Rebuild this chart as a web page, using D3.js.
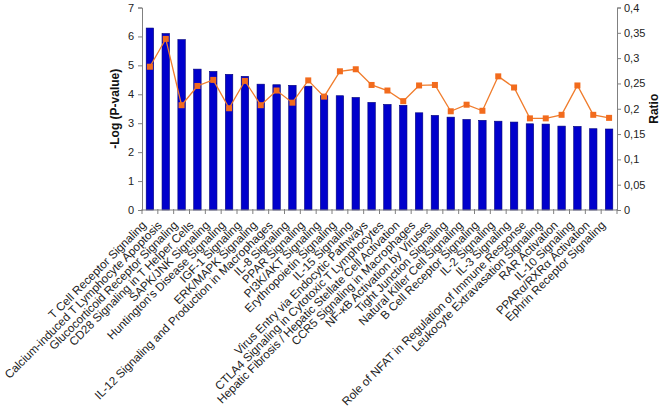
<!DOCTYPE html>
<html><head><meta charset="utf-8">
<script src="https://cdn.jsdelivr.net/npm/d3@7"></script>
<style>
html,body{margin:0;padding:0;background:#fff;}
svg{display:block;font-family:"Liberation Sans",Arial,sans-serif;}
</style></head>
<body><svg id="c" width="661" height="415"></svg>
<script>
const categories = [
  "T Cell Receptor Signaling",
  "Calcium-induced T Lymphocyte Apoptosis",
  "Glucocorticoid Receptor Signaling",
  "CD28 Signaling in T Helper Cells",
  "SAPK/JNK Signaling",
  "Huntington's Disease Signaling",
  "IGF-1 Signaling",
  "ERK/MAPK Signaling",
  "IL-12 Signaling and Production in Macrophages",
  "IL-8 Signaling",
  "PPAR Signaling",
  "PI3K/AKT Signaling",
  "Erythropoietin Signaling",
  "IL-15 Signaling",
  "Virus Entry via Endocytic Pathways",
  "CTLA4 Signaling in Cytotoxic T Lymphocytes",
  "Hepatic Fibrosis / Hepatic Stellate Cell Activation",
  "CCR5 Signaling in Macrophages",
  "NF-κB Activation by Viruses",
  "Tight Junction Signaling",
  "Natural Killer Cell Signaling",
  "B Cell Receptor Signaling",
  "IL-2 Signaling",
  "IL-3 Signaling",
  "Role of NFAT in Regulation of Immune Response",
  "Leukocyte Extravasation Signaling",
  "RAR Activation",
  "IL-10 Signaling",
  "PPARα/RXRα Activation",
  "Ephrin Receptor Signaling"
];
const logP = [6.29, 6.10, 5.89, 4.87, 4.79, 4.69, 4.62, 4.35, 4.33, 4.31,
              4.28, 3.95, 3.95, 3.89, 3.72, 3.65, 3.62, 3.36, 3.27, 3.21,
              3.13, 3.10, 3.07, 3.04, 2.98, 2.97, 2.90, 2.89, 2.81, 2.80];
const ratio = [0.283, 0.338, 0.207, 0.245, 0.257, 0.201, 0.255, 0.207, 0.236, 0.212,
               0.256, 0.224, 0.274, 0.278, 0.247, 0.236, 0.215, 0.246, 0.247, 0.195,
               0.208, 0.196, 0.264, 0.242, 0.181, 0.181, 0.188, 0.246, 0.188, 0.182];
const leftTicks = [0,1,2,3,4,5,6,7];
const rightTicks = [0,0.05,0.1,0.15,0.2,0.25,0.3,0.35,0.4];
const rightTickLabels = ["0","0,05","0,1","0,15","0,2","0,25","0,3","0,35","0,4"];
const leftTitle = "-Log (P-value)";
const rightTitle = "Ratio";

const L = 142, R = 617, T = 7.5, B = 210;
const svg = d3.select("#c");
const x = d3.scaleBand().domain(categories).range([L, R]).paddingInner(0).paddingOuter(0);
const yL = d3.scaleLinear().domain([0,7]).range([B, T]);
const yR = d3.scaleLinear().domain([0,0.4]).range([B, T]);
const axisCol = "#808080";
const txtCol = "#222";

// bars
const bw = x.bandwidth()*0.47;
svg.append("g").selectAll("rect").data(categories).join("rect")
  .attr("x", (d)=> x(d) + (x.bandwidth()-bw)/2)
  .attr("y", (d,i)=> yL(logP[i]))
  .attr("width", bw)
  .attr("height", (d,i)=> yL(0)-yL(logP[i]))
  .attr("fill", "#0000cc")
  .attr("stroke", "#00007a").attr("stroke-width", 0.6);

// left axis
const gl = svg.append("g").attr("transform",`translate(${L},0)`)
  .call(d3.axisLeft(yL).tickValues(leftTicks).tickSize(4).tickPadding(4).tickFormat(d3.format("d")));
gl.select(".domain").attr("stroke", axisCol);
gl.selectAll(".tick line").attr("stroke", axisCol);
gl.selectAll(".tick text").attr("fill", txtCol).style("font-size","11px");

// right axis
const gr = svg.append("g").attr("transform",`translate(${R},0)`)
  .call(d3.axisRight(yR).tickValues(rightTicks).tickSize(4).tickPadding(3).tickFormat((d,i)=>rightTickLabels[i]));
gr.select(".domain").attr("stroke", axisCol);
gr.selectAll(".tick line").attr("stroke", axisCol);
gr.selectAll(".tick text").attr("fill", txtCol).style("font-size","11px");

// x axis with ticks at category boundaries
const gx = svg.append("g");
gx.append("line").attr("x1", L).attr("x2", R).attr("y1", B).attr("y2", B).attr("stroke", axisCol);
const bounds = categories.map(c => x(c)).concat([R]);
gx.selectAll("line.t").data(bounds).join("line").attr("class","t")
  .attr("x1", d=>d).attr("x2", d=>d).attr("y1", B-1).attr("y2", B+4).attr("stroke", axisCol);

// category labels
svg.append("g").selectAll("text").data(categories).join("text")
  .attr("transform", d => `translate(${x(d)+x.bandwidth()/2-3},${B+16}) rotate(-45)`)
  .attr("text-anchor","end")
  .attr("fill", txtCol)
  .style("font-size","11.7px")
  .text(d=>d);

// ratio line
const line = d3.line().x((d,i)=> x(categories[i]) + x.bandwidth()/2).y(d=> yR(d));
svg.append("path").datum(ratio).attr("d", line)
  .attr("fill","none").attr("stroke","#f07c2c").attr("stroke-width",1.3);
const ms = 6;
svg.append("g").selectAll("rect").data(ratio).join("rect")
  .attr("x", (d,i)=> x(categories[i]) + x.bandwidth()/2 - ms/2)
  .attr("y", d=> yR(d) - ms/2)
  .attr("width", ms).attr("height", ms)
  .attr("fill", "#f26b1d");

// axis titles
svg.append("text").attr("transform", `translate(119,${(T+B)/2}) rotate(-90)`)
  .attr("text-anchor","middle").attr("fill","#111")
  .style("font-size","12px").style("font-weight","bold").text(leftTitle);
svg.append("text").attr("transform", `translate(658,${(T+B)/2}) rotate(-90)`)
  .attr("text-anchor","middle").attr("fill","#111")
  .style("font-size","12px").style("font-weight","bold").text(rightTitle);
</script></body></html>
